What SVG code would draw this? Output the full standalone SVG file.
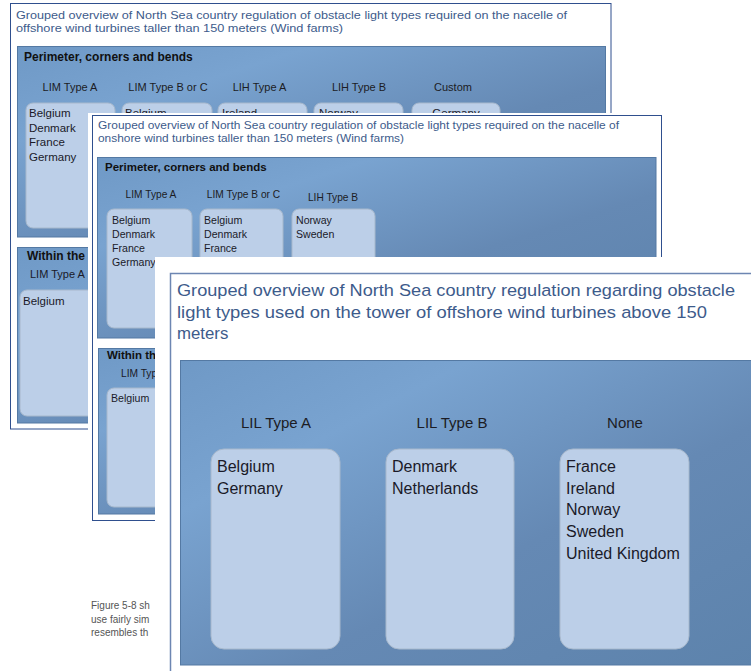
<svg xmlns="http://www.w3.org/2000/svg" width="751" height="671" viewBox="0 0 751 671">
  <defs>
    <linearGradient id="panelFill" x1="0" y1="0" x2="1" y2="1">
      <stop offset="0" stop-color="#6f99c6"/>
      <stop offset="0.25" stop-color="#79a3d0"/>
      <stop offset="0.6" stop-color="#6589b4"/>
      <stop offset="1" stop-color="#5d83ac"/>
    </linearGradient>
    <style>
      .card { fill: #ffffff; }
      .frame { fill: none; stroke: #2f4f8e; stroke-width: 1; }
      .panel { fill: url(#panelFill); stroke: #5479a3; stroke-width: 1; }
      .box { fill: #bccfe8; stroke: #a7b8cc; stroke-width: 1; }
      .title { font-family: "Liberation Sans", Arial, sans-serif; fill: #3d5b8b; }
      .bold { font-family: "Liberation Sans", Arial, sans-serif; font-weight: bold; fill: #111111; }
      .head { font-family: "Liberation Sans", Arial, sans-serif; fill: #1c1c24; text-anchor: middle; }
      .item { font-family: "Liberation Sans", Arial, sans-serif; fill: #1a1a28; }
      .caption { font-family: "Liberation Sans", Arial, sans-serif; font-size: 10px; fill: #555555; }
    </style>
  </defs>

  <rect width="751" height="671" fill="#ffffff"/>

  <!-- Body text of the page behind the sheets -->
  <g id="caption" class="caption">
    <text x="91" y="609">Figure 5-8 sh</text>
    <text x="91" y="623">use fairly sim</text>
    <text x="91" y="636">resembles th</text>
  </g>

  <!-- Sheet 1: nacelle lights, offshore -->
  <g id="sheet-offshore-nacelle">
    <rect class="frame" x="10.5" y="3.5" width="600.5" height="425.5"/>
    <text class="title" font-size="11.3" x="16" y="19" textLength="551" lengthAdjust="spacingAndGlyphs">Grouped overview of North Sea country regulation of obstacle light types required on the nacelle of</text>
    <text class="title" font-size="11.3" x="16" y="32" textLength="327" lengthAdjust="spacingAndGlyphs">offshore wind turbines taller than 150 meters (Wind farms)</text>

    <g id="s1-perimeter">
      <rect class="panel" x="17.5" y="46.5" width="588" height="190.5"/>
      <text class="bold" font-size="12" x="24" y="61.3">Perimeter, corners and bends</text>
      <g font-size="11">
        <text class="head" x="70" y="91">LIM Type A</text>
        <text class="head" x="168" y="91">LIM Type B or C</text>
        <text class="head" x="259.5" y="91">LIH Type A</text>
        <text class="head" x="359" y="91">LIH Type B</text>
        <text class="head" x="453" y="91">Custom</text>
      </g>
      <rect class="box" x="26" y="103" width="89" height="125" rx="7"/>
      <rect class="box" x="122" y="103" width="90" height="125" rx="7"/>
      <rect class="box" x="218" y="103" width="89" height="125" rx="7"/>
      <rect class="box" x="314" y="103" width="89" height="125" rx="7"/>
      <rect class="box" x="412" y="103" width="88" height="125" rx="7"/>
      <g class="item" font-size="11.5">
        <text x="29" y="117">Belgium</text>
        <text x="29" y="131.5">Denmark</text>
        <text x="29" y="146">France</text>
        <text x="29" y="160.5">Germany</text>
        <text x="125" y="117">Belgium</text>
        <text x="222" y="117">Ireland</text>
        <text x="319" y="117">Norway</text>
        <text x="456" y="117" text-anchor="middle">Germany</text>
      </g>
    </g>

    <g id="s1-within">
      <rect class="panel" x="17.5" y="247.5" width="588" height="175.5"/>
      <text class="bold" font-size="12" x="27" y="260.3">Within the</text>
      <text class="item" font-size="11" x="30" y="278">LIM Type A</text>
      <rect class="box" x="20" y="290" width="90" height="126" rx="7"/>
      <text class="item" font-size="11.5" x="23" y="305">Belgium</text>
    </g>
  </g>

  <!-- Sheet 2: nacelle lights, onshore -->
  <g id="sheet-onshore-nacelle">
    <rect class="card" x="88" y="113" width="580" height="412"/>
    <rect class="frame" x="92.5" y="115.5" width="569" height="405"/>
    <text class="title" font-size="10.7" x="98" y="129" textLength="521" lengthAdjust="spacingAndGlyphs">Grouped overview of North Sea country regulation of obstacle light types required on the nacelle of</text>
    <text class="title" font-size="10.7" x="98" y="142" textLength="306" lengthAdjust="spacingAndGlyphs">onshore wind turbines taller than 150 meters (Wind farms)</text>

    <g id="s2-perimeter">
      <rect class="panel" x="97.5" y="157.5" width="558.5" height="180.5"/>
      <text class="bold" font-size="11.5" x="105" y="171">Perimeter, corners and bends</text>
      <g font-size="10.2">
        <text class="head" x="151" y="198">LIM Type A</text>
        <text class="head" x="243.5" y="198">LIM Type B or C</text>
        <text class="head" x="333" y="201">LIH Type B</text>
      </g>
      <rect class="box" x="107" y="209" width="85" height="119" rx="7"/>
      <rect class="box" x="200" y="209" width="83" height="119" rx="7"/>
      <rect class="box" x="292" y="209" width="83" height="119" rx="7"/>
      <g class="item" font-size="10.6">
        <text x="112" y="224">Belgium</text>
        <text x="112" y="238">Denmark</text>
        <text x="112" y="252">France</text>
        <text x="112" y="266">Germany</text>
        <text x="204" y="224">Belgium</text>
        <text x="204" y="238">Denmark</text>
        <text x="204" y="252">France</text>
        <text x="296" y="224">Norway</text>
        <text x="296" y="238">Sweden</text>
      </g>
    </g>

    <g id="s2-within">
      <rect class="panel" x="98.5" y="348.5" width="557.5" height="165.5"/>
      <text class="bold" font-size="11.5" x="107" y="359">Within th</text>
      <text class="item" font-size="10.2" x="121" y="377">LIM Typ</text>
      <rect class="box" x="107" y="388" width="85" height="119" rx="7"/>
      <text class="item" font-size="10.6" x="111" y="402">Belgium</text>
    </g>
  </g>

  <!-- Sheet 3: tower lights, offshore -->
  <g id="sheet-offshore-tower">
    <rect class="card" x="155" y="257" width="600" height="420"/>
    <rect x="170.5" y="273.5" width="600" height="420" fill="none" stroke="#6d86b2" stroke-width="1.5"/>
    <text class="title" font-size="16.8" x="177" y="296" textLength="558" lengthAdjust="spacingAndGlyphs">Grouped overview of North Sea country regulation regarding obstacle</text>
    <text class="title" font-size="16.8" x="177" y="317.5" textLength="530" lengthAdjust="spacingAndGlyphs">light types used on the tower of offshore wind turbines above 150</text>
    <text class="title" font-size="16.8" x="177" y="339">meters</text>

    <g id="s3-panel">
      <rect class="panel" x="180.5" y="360.5" width="580" height="304.5"/>
      <g font-size="15">
        <text class="head" x="276" y="427.5">LIL Type A</text>
        <text class="head" x="452" y="427.5">LIL Type B</text>
        <text class="head" x="625" y="427.5">None</text>
      </g>
    </g>

    <g id="s3-lil-a">
      <rect class="box" x="211" y="449" width="129" height="200" rx="13"/>
      <text class="item" font-size="16" x="217" y="472">Belgium</text>
      <text class="item" font-size="16" x="217" y="493.5">Germany</text>
    </g>
    <g id="s3-lil-b">
      <rect class="box" x="386" y="449" width="128" height="200" rx="13"/>
      <text class="item" font-size="16" x="392" y="472">Denmark</text>
      <text class="item" font-size="16" x="392" y="493.5">Netherlands</text>
    </g>
    <g id="s3-none">
      <rect class="box" x="560" y="449" width="129" height="200" rx="13"/>
      <g class="item" font-size="16">
        <text x="566" y="472">France</text>
        <text x="566" y="493.5">Ireland</text>
        <text x="566" y="515">Norway</text>
        <text x="566" y="537">Sweden</text>
        <text x="566" y="558.5">United Kingdom</text>
      </g>
    </g>
  </g>
</svg>
